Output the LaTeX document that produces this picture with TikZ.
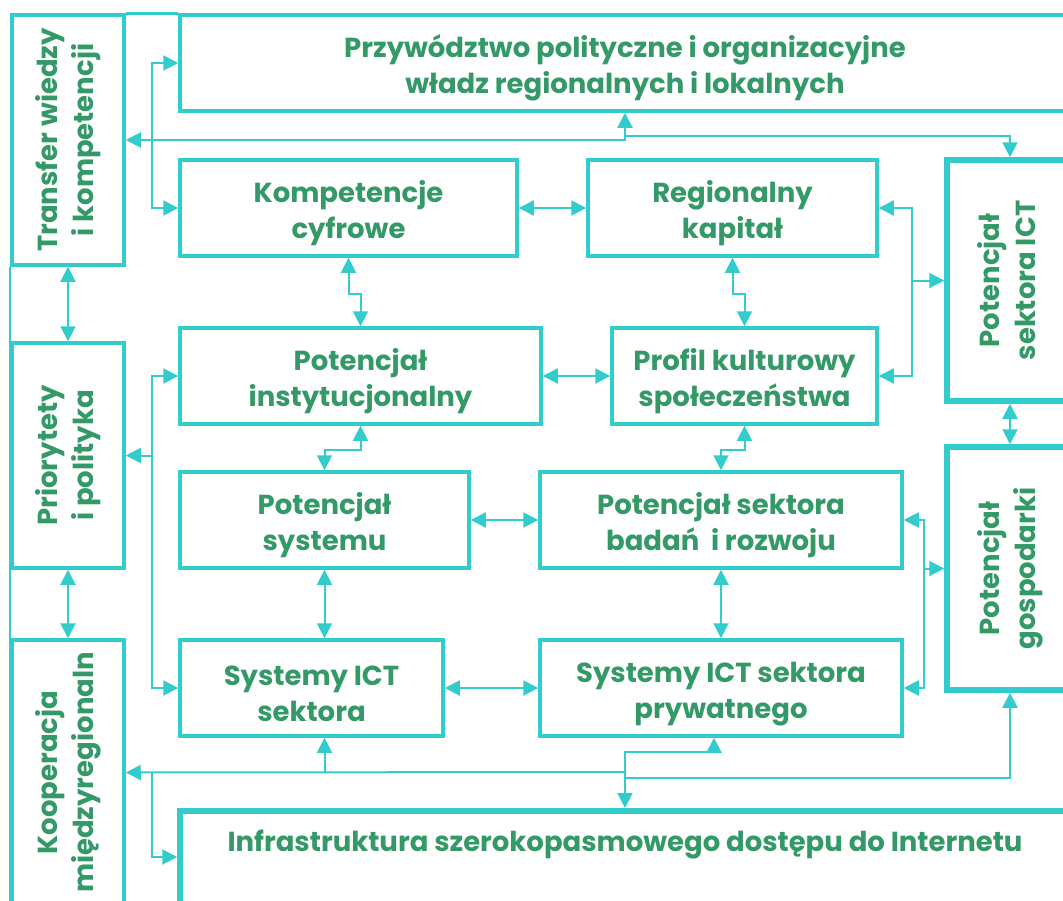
\documentclass[tikz,border=0pt]{standalone}
\usepackage{fontspec}
\setmainfont{Poppins}
\usepackage{graphicx}
\usetikzlibrary{arrows.meta}
\definecolor{tealline}{HTML}{33CCCC}
\definecolor{greentext}{HTML}{339966}

\begin{document}
\begin{tikzpicture}[x=1pt,y=-1pt]
\tikzstyle{upbox} = [draw=tealline,line width=3.5pt,text=greentext,font=\fontsize{27.5}{36}\selectfont\bfseries,align=center,inner sep=0pt]
\tikzstyle{box} = [upbox,text height=68pt]
\tikzstyle{bigbox} = [upbox,line width=5.5pt]
\tikzstyle{link} = [draw=tealline,line width=2pt,-{Triangle[length=15pt,width=15pt]}]
\tikzstyle{link2} = [draw=tealline,line width=2pt,{Triangle[length=15pt,width=15pt]}-{Triangle[length=15pt,width=15pt]}]
\def\vtxt#1{\rotatebox{90}{\begin{tabular}{@{}c@{}}#1\end{tabular}}}

\useasboundingbox (0,0) rectangle (1063,900);

\node[upbox,minimum width=112pt,minimum height=250pt] (transfer) at (68,140) {\vtxt{Transfer wiedzy\\i kompetencji}};
\node[box,minimum width=890pt,minimum height=96pt] (lead) at (625,63) {Przywództwo polityczne i organizacyjne\\władz regionalnych i lokalnych};
\node[box,minimum width=337pt,minimum height=96pt] (komp) at (348.5,208) {Kompetencje\\cyfrowe};
\node[box,minimum width=289pt,minimum height=96pt] (region) at (732.5,208) {Regionalny\\kapitał};
\node[bigbox,minimum width=126pt,minimum height=241pt] (ict) at (1010,280.5) {\vtxt{Potencjał\\sektora ICT}};
\node[upbox,minimum width=112pt,minimum height=225pt] (prior) at (68,455.5) {\vtxt{Priorytety\\i polityka}};
\node[box,minimum width=361pt,minimum height=96pt] (instyt) at (360.5,376) {Potencjał\\instytucjonalny};
\node[box,minimum width=265pt,minimum height=96pt] (profil) at (744.5,376) {Profil kulturowy\\społeczeństwa};
\node[box,minimum width=289pt,minimum height=96pt] (system) at (324.5,520) {Potencjał\\systemu};
\node[box,minimum width=362pt,minimum height=96pt] (badan) at (721,520) {Potencjał sektora\\badań~ i rozwoju};
\node[bigbox,minimum width=126pt,minimum height=243pt] (gosp) at (1010,568.5) {\vtxt{Potencjał\\gospodarki}};
\node[box,minimum width=263pt,minimum height=96pt] (ictpub) at (311.5,688) {Systemy ICT\\sektora};
\node[box,minimum width=362pt,minimum height=96pt] (ictpriv) at (721,688) {Systemy ICT sektora\\prywatnego};
\node[upbox,minimum width=112pt,minimum height=265pt] (koop) at (68,772.5) {\vtxt{Kooperacja\\międzyregionaln}};
\node[bigbox,align=none,minimum width=890pt,anchor=north,text height=20pt,text depth=90pt,inner ysep=21pt] (infra) at (625,808) {Infrastruktura szerokopasmowego dostępu do Internetu};

\draw[draw=tealline,line width=3.5pt] (transfer.north east) -- (lead.north west);
\draw[draw=tealline,line width=2pt] (transfer.south west) -- (koop.south west);
\draw[link2] (transfer.south) -- (prior.north);
\draw[link2] (prior.south) -- (koop.north);
\draw[link2] (lead.west) -- (152,63) |- (komp.west);
\draw[link2] (transfer.east) -- (625,140) -- (lead.south);
\draw[link] (625,136) -| (ict.north);
\draw[link2] (komp.east) -- (region.west);
\draw[link2] (komp.south) -- ++(0,36) -| (instyt.north);
\draw[link2] (region.south) -- ++(0,36) -| (profil.north);
\draw[link2] (instyt.east) -- (profil.west);
\draw[link2] (instyt.south) -- ++(0,24) -| (system.north);
\draw[link2] (profil.south) -- ++(0,24) -| (badan.north);
\draw[link2] (system.east) -- (badan.west);
\draw[link2] (system.south) -- (system.south |- ictpub.north);
\draw[link2] (badan.south) -- (ictpriv.north);
\draw[link2] (ictpub.east) -- (ictpriv.west);
\draw[link2] (instyt.west) -- (152,376) |- (ictpub.west);
\draw[link] (152,455.5) -- (prior.east);
\draw[link2] (region.east) -- (912,208) |- (profil.east);
\draw[link] (912,280.5) -- (ict.west);
\draw[link2] (badan.east) -- (924,520) |- (ictpriv.east);
\draw[link] (924,568.5) -- (gosp.west);
\draw[link2] (ict.south) -- (gosp.north);
\draw[link] (625,772) -- (koop.east);
\draw[link] (324.5,772) -- (system.south |- ictpub.south);
\draw[link] (152,772) |- (infra.north west |- 0,857);
\draw[link2] (ictpriv.south -| 714,0) -- (714,752) -| (infra.north);
\draw[link] (625,778) -| (gosp.south);
\end{tikzpicture}
\end{document}
